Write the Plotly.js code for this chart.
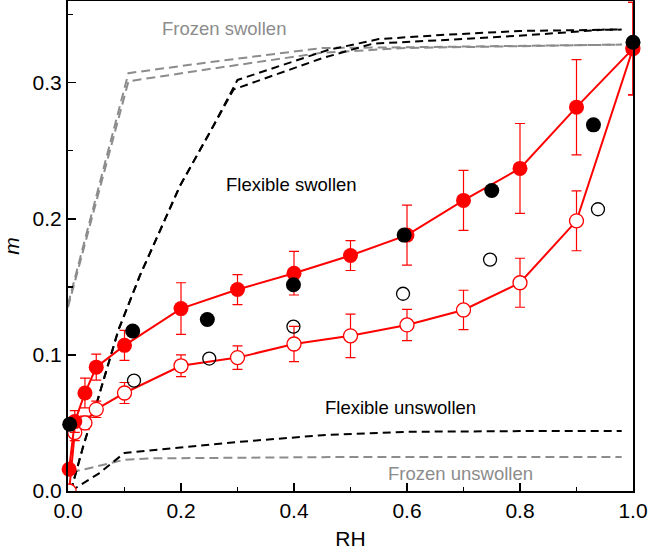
<!DOCTYPE html>
<html>
<head>
<meta charset="utf-8">
<script src="https://cdn.plot.ly/plotly-3.0.1.min.js"></script>
<style>html,body{margin:0;padding:0;background:#fff;}#chart{width:648px;height:550px;}</style>
</head>
<body>
<div id="chart"></div>
<script>
// Experimental adsorption (filled red) with error bars
const adsX   = [0.002, 0.012, 0.03, 0.05, 0.1, 0.2, 0.3, 0.4, 0.5, 0.6, 0.7, 0.8, 0.9, 1.0];
const adsY   = [0.016, 0.051, 0.072, 0.091, 0.107, 0.134, 0.148, 0.160, 0.173, 0.188, 0.2135, 0.237, 0.282, 0.325];
const adsErr = [0.003, 0.008, 0.011, 0.0095, 0.011, 0.019, 0.011, 0.016, 0.011, 0.022, 0.022, 0.033, 0.035, 0.034];
// Experimental desorption (open red) with error bars
const desX   = [0.002, 0.012, 0.03, 0.05, 0.1, 0.2, 0.3, 0.4, 0.5, 0.6, 0.7, 0.8, 0.9, 1.0];
const desY   = [0.0, 0.043, 0.050, 0.060, 0.072, 0.092, 0.098, 0.108, 0.114, 0.122, 0.133, 0.153, 0.1985, 0.325];
const desErr = [0.0, 0.006, 0.005, 0.006, 0.0077, 0.008, 0.0086, 0.013, 0.016, 0.0115, 0.0145, 0.018, 0.022, 0.034];
// Simulation points (black)
const simFillX = [0.003, 0.1145, 0.2466, 0.399, 0.595, 0.750, 0.93, 1.0];
const simFillY = [0.049, 0.1176, 0.126, 0.1515, 0.188, 0.2208, 0.269, 0.3297];
const simOpenX = [0.1168, 0.250, 0.399, 0.593, 0.747, 0.938];
const simOpenY = [0.0811, 0.0973, 0.1208, 0.1449, 0.170, 0.207];
// Model curves (dashed)
const frozenSwA_X = [0.0, 0.107, 0.25, 0.45, 0.6, 0.8, 0.98];
const frozenSwA_Y = [0.137, 0.307, 0.315, 0.3255, 0.326, 0.327, 0.328];
const frozenSwB_X = [0.0, 0.107, 0.25, 0.45, 0.6, 0.8, 0.98];
const frozenSwB_Y = [0.135, 0.301, 0.310, 0.322, 0.3255, 0.327, 0.328];
const flexSwC_X = [0.005, 0.027, 0.054, 0.089, 0.127, 0.198, 0.257, 0.300, 0.46, 0.55, 0.66, 0.80, 0.98];
const flexSwC_Y = [0.0, 0.033, 0.069, 0.118, 0.158, 0.224, 0.268, 0.302, 0.324, 0.332, 0.335, 0.338, 0.339];
const flexSwD_X = [0.005, 0.027, 0.054, 0.089, 0.127, 0.198, 0.257, 0.293, 0.45, 0.54, 0.68, 0.81, 0.95, 0.98];
const flexSwD_Y = [0.0, 0.033, 0.069, 0.118, 0.158, 0.224, 0.268, 0.295, 0.318, 0.3287, 0.3316, 0.3348, 0.339, 0.339];
const flexUnX = [0.005, 0.055, 0.1, 0.2, 0.3, 0.45, 0.6, 0.8, 0.98];
const flexUnY = [0.0, 0.013, 0.028, 0.032, 0.036, 0.041, 0.0435, 0.044, 0.044];
const frozenUnX = [0.005, 0.03, 0.07, 0.1, 0.15, 0.5, 0.98];
const frozenUnY = [0.014, 0.016, 0.020, 0.023, 0.024, 0.025, 0.025];
// Labels
const labelText = ['Frozen swollen', 'Flexible swollen', 'Flexible unswollen', 'Frozen unswollen'];
const labelX = [0.276, 0.395, 0.589, 0.695];
const labelY = [0.340, 0.2254, 0.061, 0.0125];
const labelColor = ['#8c8c8c', '#000000', '#000000', '#8c8c8c'];

const RED = '#ff0000';
const GRAY = '#8c8c8c';
const font = 'Liberation Sans, Arial, Helvetica, sans-serif';

function dashed(x, y, color, dash) {
  return {x: x, y: y, type: 'scatter', mode: 'lines', hoverinfo: 'skip',
    line: {color: color, width: 2, dash: dash}, showlegend: false};
}

const traces = [
  dashed(frozenSwA_X, frozenSwA_Y, GRAY, '9px,5px'),
  dashed(frozenSwB_X, frozenSwB_Y, GRAY, '9px,5px'),
  dashed(frozenUnX, frozenUnY, GRAY, '9px,5px'),
  dashed(flexSwC_X, flexSwC_Y, '#000', '8px,5px'),
  dashed(flexSwD_X, flexSwD_Y, '#000', '8px,5px'),
  dashed(flexUnX, flexUnY, '#000', '8px,5px'),
  {x: desX, y: desY, type: 'scatter', mode: 'lines+markers', cliponaxis: true, showlegend: false,
    line: {color: RED, width: 2},
    marker: {symbol: 'circle', size: 14, color: '#fff', line: {color: RED, width: 1.3}},
    error_y: {type: 'data', array: desErr, visible: true, color: RED, thickness: 1.2, width: 5}},
  {x: adsX, y: adsY, type: 'scatter', mode: 'lines+markers', cliponaxis: false, showlegend: false,
    line: {color: RED, width: 2},
    marker: {symbol: 'circle', size: 15, color: RED, line: {width: 0}},
    error_y: {type: 'data', array: adsErr, visible: true, color: RED, thickness: 1.2, width: 5}},
  {x: simOpenX, y: simOpenY, type: 'scatter', mode: 'markers', cliponaxis: false, showlegend: false,
    marker: {symbol: 'circle', size: 13, color: 'rgba(255,255,255,0)', line: {color: '#000', width: 1.3}}},
  {x: simFillX, y: simFillY, type: 'scatter', mode: 'markers', cliponaxis: false, showlegend: false,
    marker: {symbol: 'circle', size: 15, color: '#000', line: {width: 0}}}
];

const annotations = labelText.map((t, i) => ({
  x: labelX[i], y: labelY[i], xref: 'x', yref: 'y', text: t, showarrow: false,
  xanchor: 'center', yanchor: 'middle',
  font: {family: font, size: 18.5, color: labelColor[i]}
}));

const axisCommon = {
  showline: true, linecolor: '#000', linewidth: 2, mirror: true,
  showgrid: false, zeroline: false,
  ticks: 'inside', ticklen: 8, tickwidth: 1.5, tickcolor: '#000',
  tickfont: {family: font, size: 21, color: '#000'},
  tickformat: '.1f'
};

const layout = {
  width: 648, height: 550,
  margin: {l: 68, r: 15, t: 1, b: 59},
  paper_bgcolor: '#fff', plot_bgcolor: '#fff',
  font: {family: font, color: '#000'},
  showlegend: false,
  xaxis: Object.assign({}, axisCommon, {
    range: [0, 1], tick0: 0, dtick: 0.2,
    minor: {dtick: 0.1, ticks: 'inside', ticklen: 4.5, tickwidth: 1.5, tickcolor: '#000', showgrid: false},
    title: {text: 'RH', font: {family: font, size: 21, color: '#000'}, standoff: 11}
  }),
  yaxis: Object.assign({}, axisCommon, {
    range: [0, 0.36], tick0: 0, dtick: 0.1,
    minor: {dtick: 0.05, ticks: 'inside', ticklen: 4.5, tickwidth: 1.5, tickcolor: '#000', showgrid: false},
    title: {text: '<i>m</i>', font: {family: font, size: 21, color: '#000'}, standoff: 11}
  }),
  annotations: annotations
};

Plotly.newPlot('chart', traces, layout, {displayModeBar: false, staticPlot: true});
</script>
</body>
</html>
